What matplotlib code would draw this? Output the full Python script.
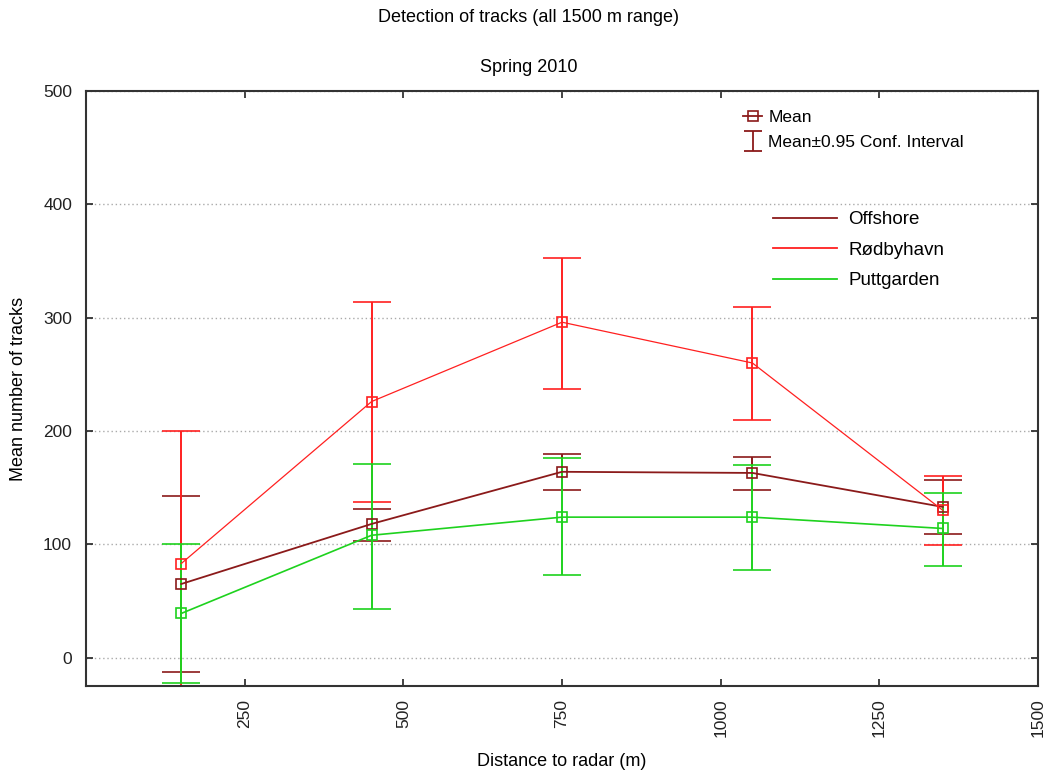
import numpy as np
import matplotlib
matplotlib.use('Agg')
import matplotlib.pyplot as plt
from matplotlib.lines import Line2D
from matplotlib.path import Path

# data
distance = [150, 450, 750, 1050, 1350]

offshore_mean = [65, 118, 164, 163, 133]
offshore_lo = [-13, 103, 148, 148, 109]
offshore_hi = [143, 131, 180, 177, 157]

rodby_mean = [83, 226, 296, 260, 130]
rodby_lo = [-34, 137, 237, 210, 99]
rodby_hi = [200, 314, 353, 309, 160]

putt_mean = [39, 108, 124, 124, 114]
putt_lo = [-22, 43, 73, 77, 81]
putt_hi = [100, 171, 176, 170, 145]

names = ['Offshore', 'Rødbyhavn', 'Puttgarden']
colors = ['#8b1a1a', '#ff2020', '#1ed21e']
x_ticks = [250, 500, 750, 1000, 1250, 1500]
y_ticks = [0, 100, 200, 300, 400, 500]

plt.rcParams['font.family'] = ['Liberation Sans', 'DejaVu Sans']

fig = plt.figure(figsize=(10.49, 7.73), dpi=100)
ax = fig.add_axes([86/1049, 1-686/773, (1038-86)/1049, (686-91)/773])

series = [
    (offshore_mean, offshore_lo, offshore_hi, 1.3),
    (rodby_mean, rodby_lo, rodby_hi, 0.9),
    (putt_mean, putt_lo, putt_hi, 1.2),
]
for (m, lo, hi, lw), c, name in zip(series, colors, names):
    m = np.array(m); lo = np.array(lo); hi = np.array(hi)
    ax.errorbar(distance, m, yerr=[m - lo, hi - m], color=c, lw=lw,
                elinewidth=1.4, capsize=14, capthick=1.4,
                marker='s', ms=7, mfc='none', mec=c, mew=1.2)

ax.set_xlim(0, 1500)
ax.set_ylim(-25, 500)
ax.set_xticks(x_ticks)
ax.set_yticks(y_ticks)
ax.tick_params(axis='both', direction='in', length=5, width=1.2,
               top=True, right=True, labelsize=12.5, colors='#222222')
ax.tick_params(axis='x', labelrotation=90, pad=9)
ax.tick_params(axis='y', pad=10)
ax.yaxis.grid(True, linestyle=(0, (1, 2)), color='#aaaaaa', lw=1)
for s in ax.spines.values():
    s.set_linewidth(1.5)
    s.set_color('#333333')

ax.set_xlabel('Distance to radar (m)', fontsize=13)
ax.xaxis.set_label_coords(0.5, -0.112)
ax.set_ylabel('Mean number of tracks', fontsize=13)
ax.yaxis.set_label_coords(-0.062, 0.5)

fig.text(0.504, 1-17/773, 'Detection of tracks (all 1500 m range)',
         ha='center', va='center', fontsize=13)
fig.text(0.504, 1-67/773, 'Spring 2010', ha='center', va='center', fontsize=13)

# legend for the marker types
ci_path = Path([(-0.45, -0.5), (0.45, -0.5), (0, -0.5), (0, 0.5), (-0.45, 0.5), (0.45, 0.5)],
               [Path.MOVETO, Path.LINETO, Path.MOVETO, Path.LINETO, Path.MOVETO, Path.LINETO])
h_mean = Line2D([0], [0], color=colors[0], lw=1.3, marker='s', ms=7,
                mfc='none', mec=colors[0], mew=1.2)
h_ci = Line2D([0], [0], color=colors[0], ls='none', marker=ci_path, ms=14, mew=1.3)
leg1 = ax.legend([h_mean, h_ci], ['Mean', 'Mean±0.95 Conf. Interval'],
                 loc='upper left', bbox_to_anchor=(743/1049, 1-110/773),
                 bbox_transform=fig.transFigure, frameon=False, fontsize=12.5,
                 handlelength=1.1, handletextpad=0.35, labelspacing=0.55,
                 borderpad=0, borderaxespad=0, numpoints=1)
ax.add_artist(leg1)

h_lines = [Line2D([0], [0], color=c, lw=1.3) for c in colors]
ax.legend(h_lines, names, loc='upper left', bbox_to_anchor=(773/1049, 1-211/773),
          bbox_transform=fig.transFigure, frameon=False, fontsize=13.5,
          handlelength=3.4, handletextpad=0.6, labelspacing=0.72,
          borderpad=0, borderaxespad=0)

fig.savefig('out.png', dpi=100)
